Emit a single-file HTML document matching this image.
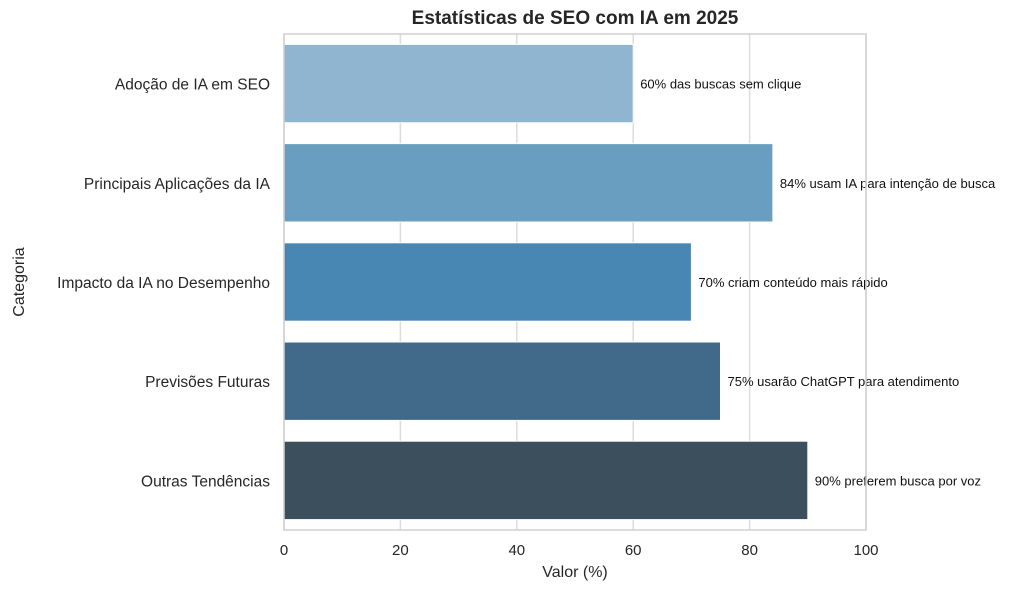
<!DOCTYPE html>
<html><head><meta charset="utf-8"><style>
body{margin:0;background:#fff;}
svg{display:block;font-family:"Liberation Sans","DejaVu Sans",sans-serif;}
</style></head><body>
<svg id="chart" width="1024" height="590" viewBox="0 0 1024 590">
<text x="575" y="24" text-anchor="middle" font-size="19" font-weight="bold" fill="#262626">Estatísticas de SEO com IA em 2025</text>
<g id="grid"></g>
<g id="bars"></g>
<rect x="284" y="34" width="582" height="496" fill="none" stroke="#d0d0d0" stroke-width="1.5"/>
<g id="xticks"></g>
<g id="ylabels"></g>
<text x="575" y="577" text-anchor="middle" font-size="16" fill="#262626">Valor (%)</text>
<text transform="translate(24,282) rotate(-90)" text-anchor="middle" font-size="16" fill="#262626">Categoria</text>
</svg>
<script>
const categories=["Adoção de IA em SEO","Principais Aplicações da IA","Impacto da IA no Desempenho","Previsões Futuras","Outras Tendências"];
const values=[60,84,70,75,90];
const barLabels=["60% das buscas sem clique","84% usam IA para intenção de busca","70% criam conteúdo mais rápido","75% usarão ChatGPT para atendimento","90% preferem busca por voz"];
const colors=["#90b5d1","#6a9ec1","#4886b3","#41698a","#3c4f5d"];
const xTicks=[0,20,40,60,80,100];
const NS="http://www.w3.org/2000/svg";
const x0=284,x1=866,y0=34,y1=530;
const xs=v=>x0+(v-0)/(100-0)*(x1-x0);
const band=(y1-y0)/categories.length;
const yc=i=>y0+band*(i+0.5);
function mk(tag,attrs,parent){const e=document.createElementNS(NS,tag);for(const k in attrs)e.setAttribute(k,attrs[k]);parent.appendChild(e);return e;}
const grid=document.getElementById('grid'),bars=document.getElementById('bars'),xt=document.getElementById('xticks'),yl=document.getElementById('ylabels');
xTicks.forEach(t=>{
  const l=mk('line',{x1:xs(t),x2:xs(t),y1:y0,y2:y1,stroke:'#dcdcdc','stroke-width':1.5},grid);
  
  
  const tx=mk('text',{x:xs(t),y:y1+25,'text-anchor':'middle','font-size':15,fill:'#262626'},xt);
  tx.textContent=t;
  
  
});
categories.forEach((c,i)=>{
  const h=band*0.79;
  const r=mk('rect',{x:xs(0),y:yc(i)-h/2,width:xs(values[i])-xs(0),height:h,fill:colors[i],stroke:'#fff','stroke-width':1},bars);
  
  
  const lb=mk('text',{x:xs(values[i])+7,y:yc(i)+5,'font-size':13,fill:'#111'},bars);
  lb.textContent=barLabels[i];
  
  
  const yt=mk('text',{x:270,y:yc(i)+6,'text-anchor':'end','font-size':15.5,fill:'#262626'},yl);
  yt.textContent=c;
  
  
});
</script>
</body></html>
